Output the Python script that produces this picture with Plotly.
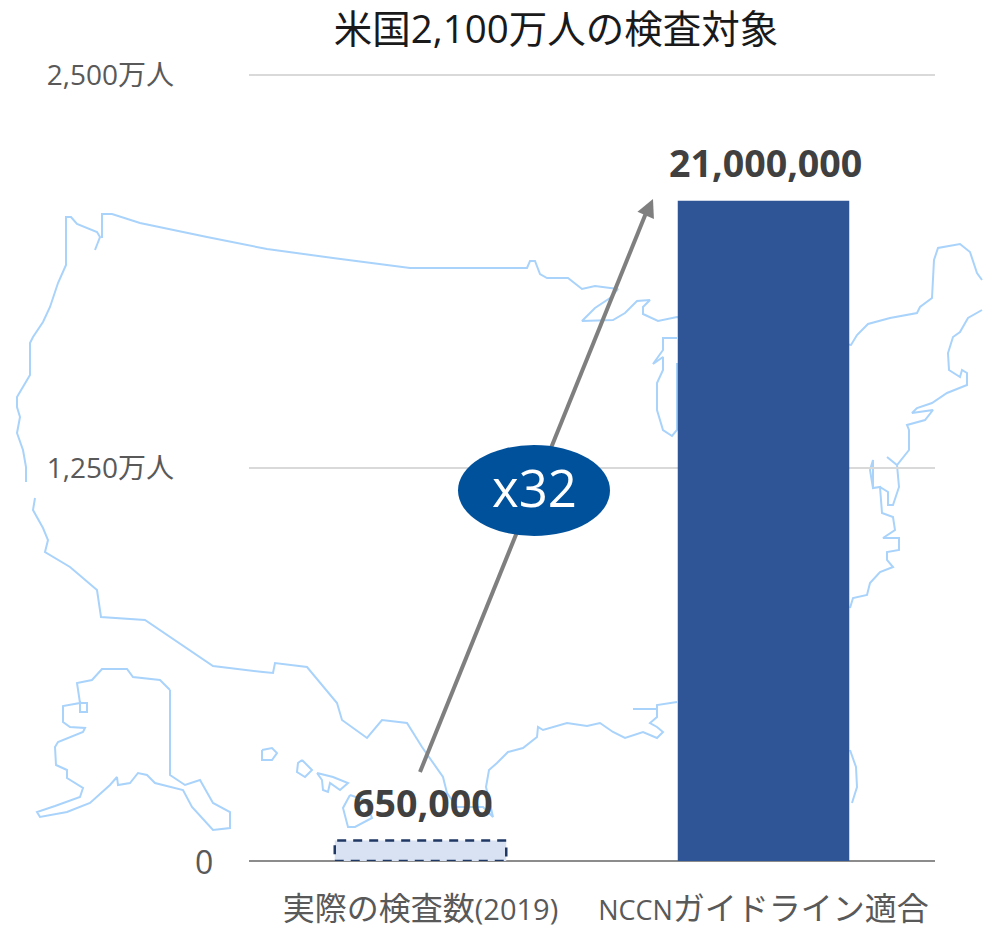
import plotly.graph_objects as go

# values in units of 10,000 people
categories = ["実際の検査数(2019)", "NCCNガイドライン適合"]
values = [65, 2100]
value_labels = ["650,000", "21,000,000"]
y_ticks = [0, 1250, 2500]
y_tick_labels = ["", "1,250万人", "2,500万人"]
x_tick_labels = [
    '<span style="font-size:32px">実際の検査数</span><span style="font-size:29px">(2019)</span>',
    '<span style="font-size:27px">NCCN</span><span style="font-size:32px">ガイドライン適合</span>',
]

# background map outline (page pixels), one list per piece
mainland_north = [(95, 250), (100, 237), (97, 232), (77, 224), (71, 217), (66, 217), (66, 265), (58, 283), (50, 307),
                  (43, 322), (33, 337), (30, 343), (30, 375), (25, 383), (17, 397), (17, 407), (20, 417), (17, 433),
                  (23, 450), (26, 467), (26, 482)]
mainland_border = [(102, 238), (102, 214), (112, 214), (140, 223), (207, 237), (267, 249), (333, 258), (410, 268),
                   (500, 268), (527, 268), (530, 261), (535, 261), (540, 274), (547, 278), (568, 278), (582, 289),
                   (595, 286), (618, 289), (610, 298), (595, 308), (582, 321), (613, 320), (625, 313), (637, 301),
                   (650, 300), (643, 307), (643, 314), (658, 321), (677, 317), (851, 345), (857, 335), (868, 324),
                   (890, 318), (917, 313), (920, 307), (932, 298), (934, 260), (938, 248), (960, 244), (970, 252),
                   (977, 273), (982, 280)]
lake_michigan = [(677, 338), (663, 338), (663, 350), (653, 364), (663, 357), (663, 370), (657, 383), (657, 410),
                 (663, 430), (672, 436), (677, 430), (677, 363)]
east_coast = [(982, 310), (968, 318), (960, 332), (953, 337), (948, 353), (949, 370), (960, 377), (962, 370),
              (967, 373), (967, 385), (947, 393), (932, 403), (917, 408), (912, 413), (933, 410), (925, 420),
              (907, 425), (909, 430), (909, 450), (897, 465), (887, 457), (897, 465), (899, 487), (893, 505),
              (888, 505), (888, 492), (880, 487), (873, 488), (873, 460), (870, 470), (873, 488), (880, 487),
              (882, 513), (893, 517), (895, 530), (883, 538), (899, 538), (899, 550), (887, 552), (887, 560),
              (893, 567), (880, 572), (870, 583), (867, 595), (853, 598), (850, 608)]
florida = [(850, 750), (856, 767), (857, 787), (852, 803)]
south_coast = [(35, 498), (33, 510), (43, 528), (48, 540), (45, 552), (70, 567), (97, 590), (101, 617), (145, 620),
               (213, 666), (263, 672), (273, 673), (275, 663), (307, 667), (337, 703), (342, 720), (367, 738),
               (382, 720), (407, 723), (422, 747), (443, 777), (447, 793), (457, 807), (483, 807), (493, 817),
               (486, 787), (489, 770), (497, 763), (508, 752), (523, 748), (537, 737), (538, 727), (543, 730),
               (567, 723), (587, 726), (600, 723), (613, 732), (625, 738), (643, 732), (657, 738), (663, 732),
               (657, 727), (650, 723), (657, 717), (657, 709), (633, 709), (657, 709), (657, 705), (677, 702)]
alaska = [(170, 690), (160, 680), (133, 677), (127, 669), (102, 669), (92, 680), (77, 683), (80, 703), (87, 703),
          (87, 712), (80, 712), (80, 703), (63, 706), (63, 722), (70, 727), (85, 728), (83, 732), (58, 742), (55, 747),
          (56, 765), (67, 770), (67, 778), (83, 788), (80, 797), (55, 806), (37, 812), (40, 817), (67, 812),
          (90, 803), (110, 785), (117, 777), (118, 785), (130, 783), (138, 773), (147, 775), (155, 783), (183, 790),
          (192, 807), (213, 830), (230, 828), (230, 812), (213, 803), (200, 780), (185, 785), (173, 777), (170, 775),
          (170, 690)]
kauai = [(262, 750), (272, 748), (277, 753), (272, 760), (262, 760), (262, 750)]
oahu = [(302, 760), (312, 770), (305, 777), (297, 772), (298, 763), (302, 760)]
maui = [(317, 773), (333, 777), (348, 783), (340, 790), (330, 783), (328, 792), (323, 790), (322, 780), (317, 773)]
big_island = [(350, 795), (343, 808), (348, 827), (355, 827), (372, 818), (365, 800), (350, 795)]
map_pieces = [mainland_north, mainland_border, lake_michigan, east_coast, florida, south_coast, alaska, kauai, oahu,
              maui, big_island]

text_font = "Open Sans, Noto Sans CJK JP, sans-serif"
label_color = '#595959'

page_w = 983
page_h = 929

map_x = []
map_y = []
for piece in map_pieces:
    map_x += [p[0] for p in piece] + [None]
    map_y += [p[1] for p in piece] + [None]

map_trace = go.Scatter(x=map_x, y=map_y, mode='lines', xaxis='x', yaxis='y', hoverinfo='skip',
                       line=dict(color='#a9d3fb', width=2), showlegend=False)

bars = go.Bar(x=categories, y=values, xaxis='x2', yaxis='y2', width=0.5,
              marker=dict(color=['#d9e2f3', '#2f5597'], line=dict(width=0)),
              showlegend=False)

value_annotations = [
    dict(text=label, x=cat, y=val, xref='x2', yref='y2', xanchor='center', yanchor='bottom', xshift=2, yshift=11,
         showarrow=False, font=dict(size=37.6, color='#404040', weight='bold'))
    for cat, val, label in zip(categories, values, value_labels)
]

layout = go.Layout(
    width=page_w, height=page_h,
    margin=dict(l=0, r=0, t=0, b=0, autoexpand=False),
    paper_bgcolor='white', plot_bgcolor='rgba(0,0,0,0)',
    font=dict(family=text_font, color=label_color),
    title=dict(text="米国2,100万人の検査対象", x=556 / page_w, y=1 - 30 / page_h,
               xanchor='center', yanchor='middle', font=dict(size=38.5, color='#1a1a1a')),
    # the base axes are the whole page in pixels and carry the map, the bars come after so they cover it
    xaxis=dict(range=[0, page_w], domain=[0, 1], visible=False),
    yaxis=dict(range=[page_h, 0], domain=[0, 1], visible=False),
    xaxis2=dict(domain=[249 / page_w, 935 / page_w], anchor='y2', type='category',
                tickvals=categories, ticktext=x_tick_labels, ticks='', ticklabelstandoff=26,
                tickfont=dict(size=32, color=label_color), showline=False, showgrid=False, zeroline=False),
    # range runs just past 2,500 so the top gridline is not dropped at the axis end
    yaxis2=dict(domain=[(page_h - 861) / page_h, (page_h - 861 + 786 * 1.004) / page_h], anchor='x2',
                range=[0, 2510], tickvals=y_ticks, ticktext=y_tick_labels, ticks='', ticklabelstandoff=74,
                tickfont=dict(size=28, color=label_color), showgrid=True, gridcolor='#d9d9d9', gridwidth=2,
                zeroline=True, zerolinecolor='#8c8c8c', zerolinewidth=2, showline=False),
    shapes=[
        # dashed outline of the small bar
        dict(type='rect', xref='x2', yref='y2', x0=-0.25, x1=0.25, y0=0, y1=values[0],
             line=dict(color='#1f3864', width=2.5, dash='9px,7px')),
        # growth arrow shaft, then the oval on top of it
        dict(type='line', xref='x', yref='y', x0=420, y0=772, x1=646, y1=213, line=dict(color='#7f7f7f', width=4)),
        dict(type='circle', xref='x', yref='y', x0=458, x1=610, y0=445, y1=536, fillcolor='#00519b',
             line=dict(width=0)),
    ],
    annotations=value_annotations + [
        dict(text="0", xref='x', yref='y', x=215, y=861, xanchor='right', yanchor='middle', showarrow=False,
             font=dict(size=32, color=label_color)),
        dict(text="x32", xref='x', yref='y', x=534, y=487, showarrow=False, font=dict(size=51, color='white')),
        # arrow head only
        dict(text="", xref='x', yref='y', x=653, y=199, axref='x', ayref='y', ax=645, ay=217, showarrow=True,
             arrowhead=2, arrowsize=0.9, arrowwidth=4, arrowcolor='#7f7f7f'),
    ],
)

fig = go.Figure(data=[map_trace, bars], layout=layout)
# drop the browser's default body margin so the figure fills the window exactly
fig.write_html("out.html", config={"displayModeBar": False}, post_script="document.body.style.margin = '0';")
